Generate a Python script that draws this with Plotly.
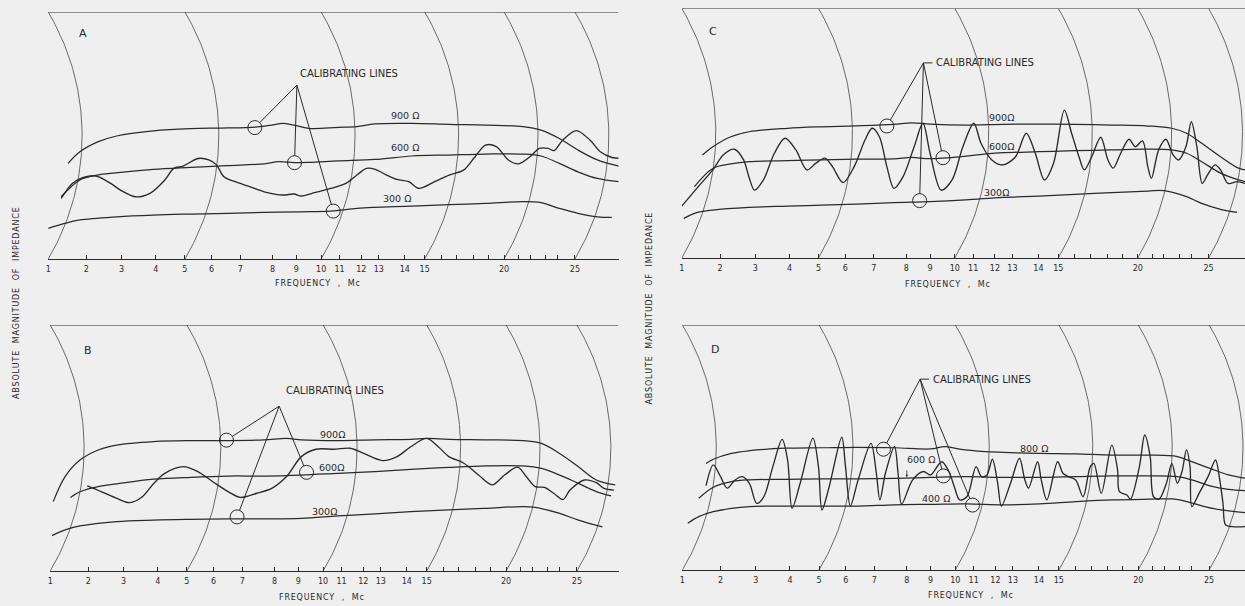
import numpy as np
import plotly.graph_objects as go

# ---------------- frequency scale of the recorder paper ----------------
TICK_F = [1, 2, 3, 4, 5, 6, 7, 8, 9, 10, 11, 12, 13, 14, 15, 16, 17, 18, 19, 20,
          21, 22, 23, 24, 25, 26, 27, 28]
TICK_POS = [0, 38.3, 73.5, 107.9, 137, 163.8, 192.5, 225, 248.8, 273.6, 292, 313.8,
            331.4, 357.4, 377.4, 394, 409.7, 426.4, 441.4, 457, 471.4, 483, 498.7,
            510.7, 528, 543, 558, 572]
TICK_LABELS = ['1', '2', '3', '4', '5', '6', '7', '8', '9', '10', '11', '12', '13',
               '14', '15', '', '', '', '', '20', '', '', '', '', '25']
ARC_F = [1, 5, 10, 15, 20, 25]

# ---------------- panel A ----------------
A_900_F = [1.52, 1.83, 2.34, 2.86, 3.93, 5.21, 6.3, 7.18, 7.63, 7.97, 8.43, 8.9, 9.5,
           10.93, 11.8, 12.78, 14.35, 16.5, 18.8, 21.4, 22.7, 24.1, 25.2, 26.5, 28.0]
A_900_U = [38.7, 43.4, 47.5, 49.8, 51.9, 52.8, 53.0, 53.2, 53.6, 54.2, 54.9, 54.2, 52.9,
           53.3, 53.6, 54.7, 54.9, 54.5, 54.2, 53.6, 52.2, 48.8, 44.1, 40.1, 37.6]
A_600_F = [1.34, 1.83, 2.31, 2.83, 3.93, 5.21, 6.53, 7.74, 8.27, 8.9, 9.5, 10.93, 12.78,
           14.35, 16.5, 18.8, 21.4, 22.7, 24.1, 25.2, 26.5, 28.0]
A_600_U = [25.2, 32.0, 34.0, 34.9, 36.3, 37.1, 37.8, 38.5, 39.4, 39.0, 39.1, 39.7, 40.3,
           41.7, 42.1, 42.5, 42.5, 41.7, 38.7, 35.3, 32.6, 31.3]
A_300_F = [1.0, 1.44, 1.83, 2.87, 3.93, 5.21, 6.56, 7.74, 9.2, 10.5, 11.8, 12.7, 14.35,
           16.5, 18.8, 21.4, 22.7, 24.1, 25.2, 26.5, 27.5]
A_300_U = [12.4, 14.4, 15.8, 17.1, 17.8, 18.2, 18.5, 18.9, 19.1, 19.4, 20.5, 20.9, 21.4,
           22.0, 22.5, 23.2, 22.8, 20.5, 18.5, 17.1, 16.9]
A_MEAS_F = [1.34, 1.63, 1.92, 2.27, 2.69, 2.97, 3.4, 3.83, 4.31, 4.62, 4.94, 5.49, 5.9,
            6.17, 6.43, 6.82, 7.29, 7.74, 8.43, 8.9, 9.2, 9.64, 10.52, 11.3, 11.8, 12.3,
            12.8, 13.3, 13.7, 14.2, 14.7, 15.6, 16.5, 17.4, 18.1, 18.8, 19.5, 20.3, 21.0,
            22.0, 22.6, 23.2, 23.7, 24.3, 25.1, 26.0, 26.7, 27.5, 28.0]
A_MEAS_U = [24.5, 30.6, 33.0, 33.6, 30.6, 27.9, 25.2, 26.6, 32.0, 36.7, 37.6, 40.7, 40.1,
            38.1, 33.3, 31.3, 29.3, 27.2, 25.9, 26.3, 25.5, 26.6, 28.6, 30.6, 34.0, 36.7,
            36.3, 34.0, 32.2, 31.3, 28.6, 31.3, 34.0, 36.0, 41.4, 46.1, 45.5, 40.1, 38.5,
            41.4, 44.8, 44.8, 43.9, 48.2, 52.0, 48.2, 43.4, 41.1, 40.8]
A_CIRC_F = [7.45, 8.92, 10.66]
A_CIRC_U = [53.2, 39.0, 19.4]
A_APEX = (9.02, 70.4)

# ---------------- panel B ----------------
B_900_F = [1.08, 1.39, 1.78, 2.28, 2.81, 3.88, 5.14, 6.52, 7.68, 8.5, 9.12, 10.81, 12.67,
           14.2, 15.0, 16.36, 18.7, 21.2, 22.6, 24.0, 25.1, 26.3, 27.6]
B_900_U = [28.2, 38.4, 45.1, 49.2, 51.2, 52.6, 53.0, 53.0, 53.3, 53.9, 53.3, 53.0, 53.3,
           53.5, 53.9, 53.5, 53.3, 53.0, 51.9, 47.8, 42.4, 37.0, 35.0]
B_600_F = [1.53, 1.78, 2.28, 2.81, 3.88, 5.14, 6.52, 7.68, 9.12, 10.81, 12.67, 14.2,
           16.36, 18.7, 21.2, 22.6, 24.0, 25.1, 26.3, 27.3]
B_600_U = [29.9, 32.2, 34.3, 35.4, 37.3, 38.1, 38.6, 38.6, 39.0, 39.7, 40.4, 41.3, 42.1,
           42.7, 42.7, 41.7, 39.0, 35.6, 32.3, 30.5]
B_300_F = [1.05, 1.39, 1.78, 2.81, 3.88, 5.14, 6.52, 7.68, 9.12, 10.81, 12.67, 14.2,
           16.36, 18.7, 21.2, 22.2, 24.0, 25.1, 26.7]
B_300_U = [14.4, 16.7, 18.3, 20.1, 20.7, 21.0, 21.2, 21.2, 21.4, 22.4, 23.2, 24.1, 24.8,
           25.5, 26.2, 25.9, 23.4, 20.7, 17.9]
B_MEAS_F = [1.97, 2.36, 2.81, 3.18, 3.55, 3.88, 4.24, 4.88, 5.41, 5.97, 6.52, 6.93, 7.45,
            7.91, 8.5, 9.12, 9.71, 10.6, 11.4, 12.03, 13.07, 13.63, 14.2, 15.0, 15.7,
            16.36, 17.3, 18.2, 19.1, 19.9, 20.8, 21.5, 22.2, 22.8, 23.5, 24.2, 24.6, 25.5,
            26.3, 26.8, 27.5]
B_MEAS_U = [34.6, 32.3, 29.5, 27.8, 30.2, 35.6, 39.7, 42.4, 40.4, 36.3, 32.2, 29.9, 31.6,
            33.6, 38.4, 46.5, 49.5, 49.5, 49.9, 47.8, 44.9, 46.5, 50.5, 53.9, 50.5, 46.5,
            43.8, 39.0, 35.0, 39.0, 42.2, 38.4, 34.3, 34.0, 31.6, 29.1, 32.9, 37.0, 35.9,
            33.6, 32.9]
B_CIRC_F = [6.45, 9.33, 6.82]
B_CIRC_U = [53.2, 40.1, 22.0]
B_APEX = (8.19, 67.0)

# ---------------- panel C ----------------
C_900_F = [1.54, 1.81, 2.31, 2.83, 3.94, 5.11, 6.4, 7.6, 8.23, 9.0, 10.6, 12.45, 14.03,
           16.0, 18.3, 20.7, 22.5, 23.6, 24.6, 25.8, 27.0, 27.5]
C_900_U = [41.3, 44.6, 48.6, 50.6, 52.0, 52.6, 53.0, 53.6, 54.2, 53.7, 53.3, 53.6, 53.7,
           53.6, 53.3, 52.9, 52.0, 50.0, 46.0, 40.6, 36.0, 35.3]
C_600_F = [1.33, 1.81, 2.31, 2.83, 3.94, 5.11, 6.4, 7.6, 8.23, 9.0, 10.6, 11.6, 12.45,
           14.03, 16.0, 18.3, 20.7, 22.5, 23.6, 24.6, 25.8, 27.0, 27.5]
C_600_U = [28.6, 35.9, 37.7, 38.6, 39.0, 39.3, 39.6, 39.7, 40.3, 39.8, 40.8, 41.7, 42.2,
           42.6, 43.0, 43.3, 43.6, 43.3, 42.0, 38.6, 34.0, 31.3, 30.6]
C_300_F = [1.05, 1.33, 1.81, 2.83, 3.94, 5.11, 6.4, 7.6, 9.0, 10.6, 12.45, 14.03, 16.0,
           18.3, 20.7, 22.0, 23.6, 24.6, 25.8, 26.9]
C_300_U = [15.9, 17.9, 19.2, 20.3, 20.8, 21.2, 21.6, 22.2, 22.6, 23.3, 24.3, 24.8, 25.5,
           26.2, 26.8, 27.0, 24.6, 21.9, 19.5, 18.3]
C_MEAS_F = [1.0, 1.43, 1.81, 2.09, 2.41, 2.67, 2.82, 2.98, 3.24, 3.56, 3.87, 4.22, 4.6,
            4.91, 5.24, 5.52, 5.92, 6.31, 6.69, 6.94, 7.17, 7.4, 7.62, 7.9, 8.33, 8.7,
            9.0, 9.45, 9.89, 10.44, 11.03, 11.36, 11.86, 12.45, 13.12, 13.53, 13.88, 14.3,
            14.76, 15.36, 15.8, 16.26, 16.6, 17.07, 17.61, 18.05, 18.4, 18.9, 19.44, 19.84,
            20.33, 20.7, 20.95, 21.56, 22.14, 22.6, 22.95, 23.55, 24.0, 24.32, 24.63,
            24.94, 25.43, 25.8, 26.3, 26.9, 27.46]
C_MEAS_U = [20.8, 28.6, 35.3, 41.3, 43.6, 39.3, 32.6, 27.2, 31.3, 42.0, 48.0, 43.3, 35.3,
            38.0, 40.0, 36.6, 30.2, 36.6, 47.3, 52.0, 48.6, 36.6, 27.9, 32.6, 44.6, 54.0,
            42.0, 27.2, 31.3, 44.6, 54.0, 46.0, 39.3, 37.3, 40.6, 50.0, 42.0, 31.3, 38.0,
            59.3, 50.0, 40.6, 35.3, 40.6, 48.4, 39.3, 36.0, 42.0, 47.6, 44.6, 46.9, 36.6,
            31.9, 43.3, 47.6, 41.3, 39.3, 44.6, 54.6, 44.6, 29.9, 33.3, 37.3, 35.3, 29.9,
            30.6, 29.9]
C_CIRC_F = [7.4, 9.52, 8.56]
C_CIRC_U = [52.9, 40.2, 23.0]
C_APEX = (8.72, 78.2)

# ---------------- panel D ----------------
D_800_F = [1.62, 1.81, 2.31, 2.83, 3.87, 5.1, 6.4, 7.62, 9.0, 9.59, 10.24, 11.53, 12.45,
           14.03, 16.02, 18.3, 20.7, 22.84, 24.0, 25.06, 26.3, 27.5]
D_800_U = [43.5, 45.2, 47.6, 48.7, 49.7, 49.9, 50.1, 49.9, 49.4, 50.4, 49.3, 48.3, 48.0,
           47.6, 47.4, 46.9, 46.9, 46.3, 44.2, 41.5, 38.8, 37.4]
D_600_F = [1.43, 1.81, 2.31, 2.83, 3.87, 5.1, 6.4, 7.62, 9.0, 10.63, 12.45, 14.03, 16.02,
           18.3, 20.7, 22.84, 24.0, 25.06, 26.3, 27.5]
D_600_U = [29.3, 33.8, 36.1, 36.8, 37.0, 37.2, 37.2, 37.4, 37.8, 38.1, 37.8, 37.8, 38.1,
           38.4, 38.4, 38.1, 36.8, 34.3, 32.9, 32.4]
D_400_F = [1.14, 1.43, 1.81, 2.31, 2.83, 3.87, 5.1, 6.4, 7.62, 9.0, 10.63, 12.45, 14.03,
           16.02, 18.3, 20.7, 22.5, 23.6, 24.63, 25.8, 27.5]
D_400_U = [19.1, 21.8, 23.8, 25.2, 25.9, 26.1, 26.1, 26.1, 26.6, 26.8, 27.0, 26.6, 27.0,
           27.9, 28.6, 28.9, 29.0, 27.9, 26.1, 24.5, 23.4]
D_MEAS_F = [1.62, 1.81, 2.0, 2.19, 2.41, 2.61, 2.82, 3.03, 3.24, 3.5, 3.77, 3.93, 4.07,
            4.35, 4.79, 4.98, 5.11, 5.38, 5.85, 5.99, 6.16, 6.43, 6.88, 7.06, 7.17, 7.34,
            7.62, 7.73, 7.84, 8.24, 8.7, 9.0, 9.45, 9.74, 9.96, 10.24, 10.64, 11.11, 11.36,
            11.61, 11.86, 12.13, 12.34, 12.86, 13.25, 13.46, 13.6, 13.95, 14.12, 14.4,
            14.94, 15.25, 15.58, 16.02, 16.49, 16.95, 17.17, 17.61, 18.27, 18.66, 18.78,
            19.27, 19.5, 20.08, 20.45, 20.83, 21.08, 21.56, 22.14, 22.49, 22.84, 23.18,
            23.55, 23.85, 24.0, 24.42, 24.94, 25.43, 25.68, 25.93, 26.1, 26.54, 27.5]
D_MEAS_U = [34.4, 42.9, 38.1, 33.4, 36.7, 38.1, 35.4, 27.2, 30.0, 42.2, 53.3, 44.9, 25.2,
            35.4, 53.8, 42.2, 24.5, 34.0, 54.2, 42.2, 26.1, 36.7, 51.7, 39.5, 28.6, 39.5,
            50.4, 39.5, 26.9, 36.7, 40.2, 38.8, 44.2, 40.2, 34.0, 28.6, 30.0, 42.2, 38.1,
            38.8, 45.2, 35.4, 26.1, 35.4, 45.6, 36.7, 33.4, 44.2, 36.7, 28.6, 44.2, 39.5,
            38.1, 36.7, 29.9, 42.2, 43.5, 31.3, 51.0, 40.8, 32.0, 30.6, 28.9, 42.2, 55.1,
            46.3, 29.9, 28.9, 35.4, 43.5, 35.4, 40.2, 49.0, 42.2, 25.9, 31.3, 38.1, 44.9,
            38.1, 27.2, 18.4, 17.7, 17.7]
D_CIRC_F = [7.28, 9.52, 10.94]
D_CIRC_U = [49.3, 38.4, 26.5]
D_APEX = (8.56, 77.9)

# ---------------- text labels ----------------
CAL_TEXT = 'CALIBRATING LINES'
A_LABELS = [('900 Ω', 14.0, 58.3), ('600 Ω', 14.0, 45.0), ('300 Ω', 13.7, 24.3)]
B_LABELS = [('900Ω', 10.52, 55.6), ('600Ω', 10.45, 42.0), ('300Ω', 10.1, 24.1)]
C_LABELS = [('900Ω', 12.38, 56.4), ('600Ω', 12.38, 44.6), ('300Ω', 12.1, 26.3)]
D_LABELS = [('800 Ω', 13.8, 49.7), ('600 Ω', 8.6, 45.2), ('400 Ω', 9.2, 29.0)]

# ---------------- styling / layout ----------------
W, H = 1245, 606
INK = '#2a2a2a'
GRID = '#474747'
BG = '#efefef'
FONT = 'DejaVu Sans'


def pos(f):
    return np.interp(np.asarray(f, dtype=float), TICK_F, TICK_POS)


PANELS = [
    dict(name='A', x0=45.3, x1=617, top=12, bot=259,
         lines=[(A_900_F, A_900_U), (A_600_F, A_600_U), (A_300_F, A_300_U)],
         meas=(A_MEAS_F, A_MEAS_U), circ=(A_CIRC_F, A_CIRC_U), apex=A_APEX,
         labels=A_LABELS, letter=(1.9, 91.3), cal=(9.08, 75.3), dash=False),
    dict(name='B', x0=47.3, x1=617, top=325, bot=571,
         lines=[(B_900_F, B_900_U), (B_600_F, B_600_U), (B_300_F, B_300_U)],
         meas=(B_MEAS_F, B_MEAS_U), circ=(B_CIRC_F, B_CIRC_U), apex=B_APEX,
         labels=B_LABELS, letter=(2.0, 89.8), cal=(8.38, 73.3), dash=False),
    dict(name='C', x0=680.5, x1=1245, top=8.5, bot=258,
         lines=[(C_900_F, C_900_U), (C_600_F, C_600_U), (C_300_F, C_300_U)],
         meas=(C_MEAS_F, C_MEAS_U), circ=(C_CIRC_F, C_CIRC_U), apex=C_APEX,
         labels=C_LABELS, letter=(1.81, 90.7), cal=None, dash=True),
    dict(name='D', x0=681, x1=1245, top=325, bot=570,
         lines=[(D_800_F, D_800_U), (D_600_F, D_600_U), (D_400_F, D_400_U)],
         meas=(D_MEAS_F, D_MEAS_U), circ=(D_CIRC_F, D_CIRC_U), apex=D_APEX,
         labels=D_LABELS, letter=(1.85, 90.0), cal=None, dash=True),
]

fig = go.Figure()
axes = {}
annotations = []
shapes = []
CIRC_R = 7.0
BULGE = 34.0


def spaced(text):
    return '\u200a'.join(text)


for i, p in enumerate(PANELS, start=1):
    xn = 'x' if i == 1 else f'x{i}'
    yn = 'y' if i == 1 else f'y{i}'
    xa = 'xaxis' if i == 1 else f'xaxis{i}'
    ya = 'yaxis' if i == 1 else f'yaxis{i}'
    hpx = p['bot'] - p['top']
    ky = hpx / 100.0
    xr = p['x1'] - p['x0']

    axes[xa] = dict(domain=[p['x0'] / W, p['x1'] / W], range=[0, xr], anchor=yn,
                    showline=True, linecolor=INK, linewidth=1, ticks='inside',
                    ticklen=4, tickwidth=1, tickcolor=INK,
                    tickvals=list(pos(TICK_F[:25])), ticktext=TICK_LABELS,
                    tickfont=dict(size=8, color=INK, family=FONT),
                    ticklabelstandoff=2, showgrid=False, zeroline=False,
                    fixedrange=True)
    axes[ya] = dict(domain=[(H - p['bot']) / H, (H - p['top']) / H], range=[0, 100],
                    anchor=xn, visible=False, fixedrange=True)

    # top border of the recorder paper
    shapes.append(dict(type='line', xref=xn, yref=yn, x0=0, x1=xr, y0=100, y1=100,
                       line=dict(color=INK, width=1)))

    # curved arcs of the recorder paper
    half = hpx / 2.0
    R = (half ** 2 + BULGE ** 2) / (2 * BULGE)
    uu = np.linspace(0, 100, 80)
    d = (uu - 50) * ky
    for fa in ARC_F:
        xarc = pos(fa) + np.sqrt(R ** 2 - d ** 2) - (R - BULGE)
        fig.add_trace(go.Scatter(x=xarc, y=uu, mode='lines', xaxis=xn, yaxis=yn,
                                 line=dict(color=GRID, width=0.8),
                                 hoverinfo='skip', showlegend=False))

    # calibrating lines
    for lf, lu in p['lines']:
        fig.add_trace(go.Scatter(x=pos(lf), y=lu, mode='lines', xaxis=xn, yaxis=yn,
                                 line=dict(color=INK, width=1.25, shape='spline',
                                           smoothing=1.0),
                                 hoverinfo='skip', showlegend=False))
    # measured impedance
    mf, mu = p['meas']
    fig.add_trace(go.Scatter(x=pos(mf), y=mu, mode='lines', xaxis=xn, yaxis=yn,
                             line=dict(color=INK, width=1.35, shape='spline',
                                       smoothing=0.9),
                             hoverinfo='skip', showlegend=False))

    # circles and leader lines
    cf, cu = p['circ']
    fig.add_trace(go.Scatter(x=pos(cf), y=cu, mode='markers', xaxis=xn, yaxis=yn,
                             marker=dict(symbol='circle-open', size=2 * CIRC_R,
                                         color=INK, line=dict(color=INK, width=1)),
                             hoverinfo='skip', showlegend=False))
    axp = float(pos(p['apex'][0]))
    ayu = p['apex'][1]
    xs, ys = [], []
    for f_, u_ in zip(cf, cu):
        cx = float(pos(f_))
        dx = axp - cx
        dy = (ayu - u_) * ky
        n = np.hypot(dx, dy)
        xs += [axp, cx + CIRC_R * dx / n, None]
        ys += [ayu, u_ + CIRC_R * dy / n / ky, None]
    if p['dash']:
        xs += [axp, axp + 9, None]
        ys += [ayu, ayu, None]
    fig.add_trace(go.Scatter(x=xs, y=ys, mode='lines', xaxis=xn, yaxis=yn,
                             line=dict(color=INK, width=1),
                             hoverinfo='skip', showlegend=False))

    if p['dash']:
        tx, ty = axp + 11, ayu
    else:
        tx, ty = float(pos(p['cal'][0])), p['cal'][1]
    annotations.append(dict(text=CAL_TEXT, x=tx, y=ty, xref=xn, yref=yn,
                            xanchor='left', yanchor='middle', showarrow=False,
                            font=dict(size=10, color=INK, family=FONT)))
    for txt, f_, u_ in p['labels']:
        annotations.append(dict(text=txt, x=float(pos(f_)), y=u_, xref=xn, yref=yn,
                                xanchor='center', yanchor='middle', showarrow=False,
                                font=dict(size=9.5, color=INK, family=FONT)))
    annotations.append(dict(text=p['name'], x=float(pos(p['letter'][0])),
                            y=p['letter'][1], xref=xn, yref=yn, xanchor='center',
                            yanchor='middle', showarrow=False,
                            font=dict(size=11, color=INK, family=FONT)))
    if p['name'] == 'D':
        annotations.append(dict(x=float(pos(8.0)), y=37.9, ax=float(pos(8.0)), ay=41.3,
                                xref=xn, yref=yn, axref=xn, ayref=yn, text='',
                                showarrow=True, arrowhead=2, arrowsize=0.6,
                                arrowwidth=0.8, arrowcolor=INK))

# axis titles
FREQ_TITLE = 'FREQUENCY  ,  Mc'
for cx, cy in [(315.5, 283), (319, 597), (946.7, 284.5), (969.6, 595)]:
    annotations.append(dict(text=spaced(FREQ_TITLE), x=cx / W, y=1 - cy / H,
                            xref='paper', yref='paper', xanchor='center',
                            yanchor='middle', showarrow=False,
                            font=dict(size=8, color=INK, family=FONT)))
Y_TITLE = '   '.join(spaced(w) for w in ['ABSOLUTE', 'MAGNITUDE', 'OF', 'IMPEDANCE'])
for cx, cy in [(13, 303), (648, 308)]:
    annotations.append(dict(text=Y_TITLE, x=cx / W, y=1 - cy / H, xref='paper',
                            yref='paper', xanchor='center', yanchor='middle',
                            textangle=-90, showarrow=False,
                            font=dict(size=8, color=INK, family=FONT)))

fig.update_layout(width=W, height=H, margin=dict(l=0, r=0, t=0, b=0),
                  paper_bgcolor=BG, plot_bgcolor='rgba(0,0,0,0)', showlegend=False,
                  annotations=annotations, shapes=shapes, **axes)

fig.write_html('out.html',
               config={'displayModeBar': False, 'staticPlot': True},
               post_script="document.body.style.margin='0px';"
                           "document.body.style.overflow='hidden';"
                           "document.body.style.background='" + BG + "';")
